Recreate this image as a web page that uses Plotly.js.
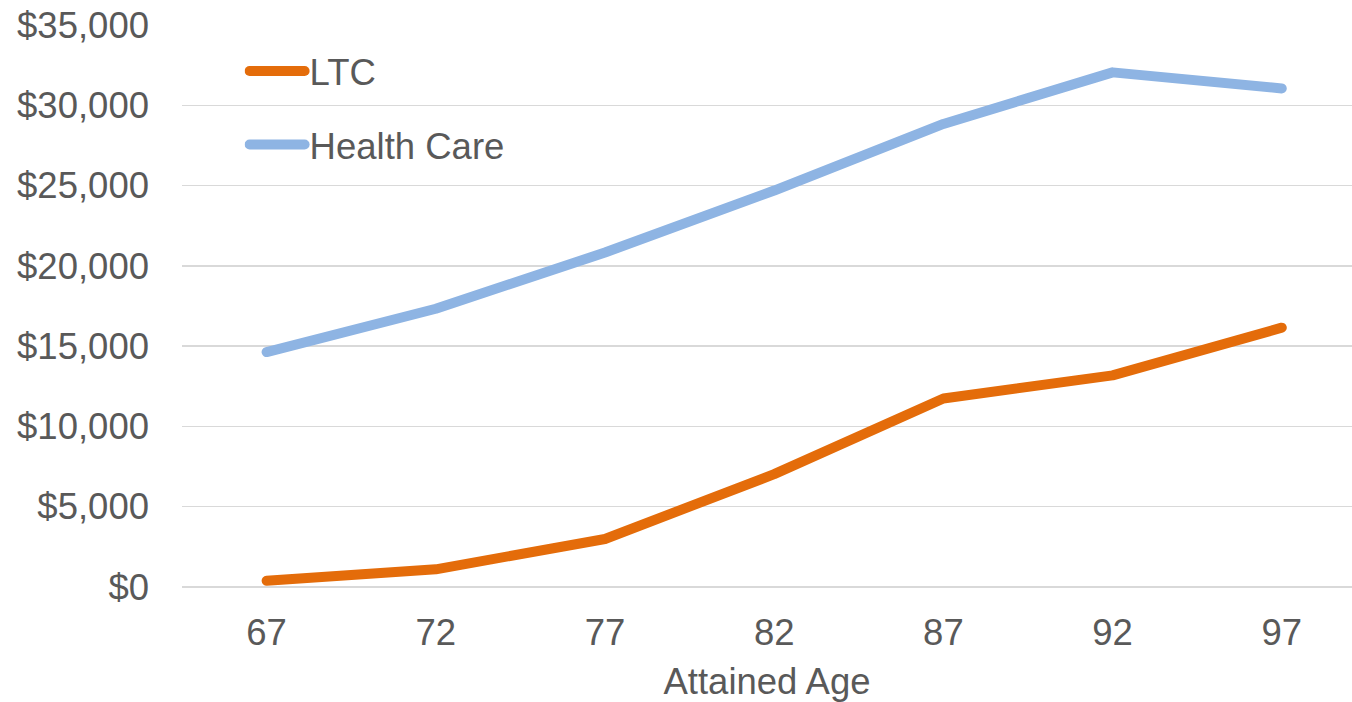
<!DOCTYPE html>
<html>
<head>
<meta charset="utf-8">
<script src="https://cdn.plot.ly/plotly-3.0.1.min.js"></script>
<style>
html, body { margin: 0; padding: 0; background: #fff; }
#chart { width: 1352px; height: 702px; }
.js-line { stroke-linecap: round; stroke-linejoin: round; }
</style>
</head>
<body>
<div id="chart"></div>
<script>
const ages = ["67", "72", "77", "82", "87", "92", "97"];
const ltc = [390, 1100, 2990, 7030, 11740, 13180, 16150];
const healthCare = [14630, 17330, 20830, 24690, 28840, 32050, 31050];
const seriesNames = ["LTC", "Health Care"];
const yTickVals = [0, 5000, 10000, 15000, 20000, 25000, 30000, 35000];
const yTickText = ["$0", "$5,000", "$10,000", "$15,000", "$20,000", "$25,000", "$30,000", "$35,000"];
const xTitle = "Attained Age";

const font = { family: "Liberation Sans, Arial, sans-serif", size: 36.5, color: "#595959" };

const traces = [
  { x: ages, y: ltc, name: seriesNames[0], type: "scatter", mode: "lines",
    line: { color: "#E46C0A", width: 10 }, legendgroup: "a", hoverinfo: "skip" },
  { x: ages, y: healthCare, name: seriesNames[1], type: "scatter", mode: "lines",
    line: { color: "#8EB4E3", width: 10 }, legendgroup: "b", hoverinfo: "skip" }
];

const layout = {
  width: 1352, height: 702,
  margin: { l: 182, r: 0, t: 25, b: 115 },
  paper_bgcolor: "#fff", plot_bgcolor: "#fff",
  font: font,
  showlegend: true,
  legend: {
    x: 0.0535, y: 0.972, xanchor: "left", yanchor: "top",
    bgcolor: "rgba(0,0,0,0)", font: font,
    traceorder: "grouped", tracegroupgap: 23, itemwidth: 55
  },
  xaxis: {
    type: "category", range: [-0.5, 6.415],
    showgrid: false, zeroline: false, showline: false, ticks: "",
    tickfont: font, ticklabelstandoff: 20,
    title: { text: xTitle, font: font, standoff: 18 }
  },
  yaxis: {
    range: [0, 35000], tickvals: yTickVals, ticktext: yTickText,
    showgrid: true, gridcolor: "#D9D9D9", gridwidth: 1.3,
    zeroline: true, zerolinecolor: "#D9D9D9", zerolinewidth: 1.3,
    showline: false, ticks: "", tickfont: font, ticklabelstandoff: 32
  }
};

Plotly.newPlot("chart", traces, layout, { staticPlot: true, displayModeBar: false });
</script>
</body>
</html>
